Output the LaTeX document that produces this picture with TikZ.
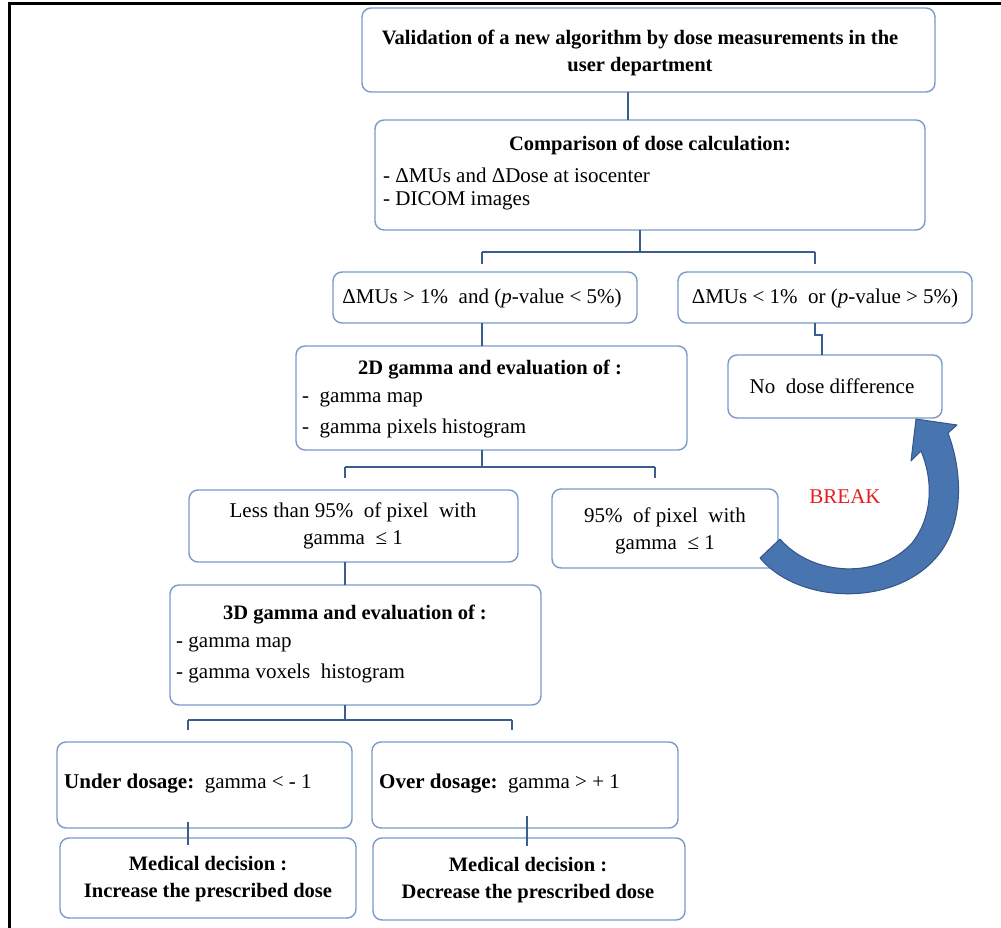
\documentclass[tikz,border=0pt]{standalone}
\usepackage{fontspec}
\setmainfont{Liberation Serif}
\begin{document}
\begin{tikzpicture}[x=1pt,y=-1pt,
  box/.style={draw=boxc, line width=1.4pt, rounded corners=9pt, fill=white, inner sep=0pt, outer sep=0pt},
  conn/.style={draw=connc, line width=2.6pt},
  txt/.style={inner sep=0pt, font=\fontsize{21}{27}\selectfont, text=black},
  ttl/.style={txt, font=\fontsize{20.5}{27}\selectfont\bfseries, align=center},
  lft/.style={txt, anchor=west}]
\definecolor{boxc}{RGB}{122,154,200}
\definecolor{connc}{RGB}{58,95,143}
\definecolor{arrf}{RGB}{72,116,176}
\definecolor{arre}{RGB}{52,86,135}
\useasboundingbox (0,0) rectangle (1001,928);
\newcommand\mybox[5]{\node[box, minimum width={(#4-#2)*1pt}, minimum height={(#5-#3)*1pt}] (#1) at ({(#2+#4)/2},{(#3+#5)/2}) {};}
% frame
\draw[line width=3pt, black] (8,4) -- (1001,4);
\draw[line width=3pt, black] (9,4) -- (9,928);
% boxes
\mybox{top}{362}{8}{935}{92}
\mybox{cmp}{375}{120}{925}{230}
\mybox{cl}{333}{272}{637}{323}
\mybox{cr}{678}{272}{972}{323}
\mybox{gtwo}{296}{346}{687}{450}
\mybox{nodose}{728}{355}{942}{418}
\mybox{less}{189}{490}{518}{562}
\mybox{ninety}{552}{489}{778}{568}
\mybox{gthree}{170}{585}{541}{705}
\mybox{under}{57}{742}{352}{828}
\mybox{over}{372}{742}{678}{828}
\mybox{medone}{60}{838}{356}{918}
\mybox{medtwo}{373}{838}{685}{920}
% texts
\node[ttl] (ttop) at (640,53) {Validation of a new algorithm by dose measurements in the\\user department};
\node[ttl] (tcmp) at (650,145) {Comparison of dose calculation:};
\node[lft] (tcmpa) at (383,175) {- ΔMUs and ΔDose at isocenter};
\node[lft] (tcmpb) at (383,201) {- DICOM images};
\node[txt] (tcl) at (482,298) {ΔMUs > 1\%\ \ and (\textit{p}-value < 5\%)};
\node[txt] (tcr) at (825,298) {ΔMUs < 1\%\ \ or (\textit{p}-value > 5\%)};
\node[ttl] (tgtwo) at (490,370) {2D gamma and evaluation of :};
\node[lft] (tgtwoa) at (302,399) {-\ \ gamma map};
\node[lft] (tgtwob) at (302,428) {-\ \ gamma pixels histogram};
\node[txt] (tnodose) at (832,386) {No\ \ dose difference};
\node[txt, align=center] (tless) at (353,526) {Less than 95\%\ \ of pixel\ \ with\\gamma\ \ ≤ 1};
\node[txt, align=center] (tninety) at (665,531) {95\%\ \ of pixel\ \ with\\gamma\ \ ≤ 1};
\node[ttl] (tgthree) at (355,615) {3D gamma and evaluation of :};
\node[lft] (tgthreea) at (176,644) {- gamma map};
\node[lft] (tgthreeb) at (176,673) {- gamma voxels\ \ histogram};
\node[lft] (tunder) at (64,784) {\textbf{Under dosage:}\ \ gamma < - 1};
\node[lft] (tover) at (379,784) {\textbf{Over dosage:}\ \ gamma > + 1};
\node[ttl] (tmedone) at (208,879) {Medical decision :\\Increase the prescribed dose};
\node[ttl] (tmedtwo) at (528,880) {Medical decision :\\Decrease the prescribed dose};
\node[txt, text={rgb,255:red,230;green,30;blue,30}] (brk) at (845,497) {BREAK};
% connectors
\coordinate (xa) at (628,0);
\coordinate (xb) at (640,0);
\coordinate (xc) at (482,0);
\coordinate (xd) at (815,0);
\coordinate (xe) at (822,0);
\coordinate (xf) at (345,0);
\coordinate (xg) at (655,0);
\coordinate (xh) at (188,0);
\coordinate (xi) at (512,0);
\coordinate (xj) at (527,0);
\draw[conn] (top.south -| xa) -- (cmp.north -| xa);
\draw[conn] (cmp.south -| xb) -- ++(0,22) coordinate (j1);
\draw[conn] (j1 -| xc) -- (j1 -| xd);
\draw[conn] (j1 -| xc) -- ++(0,12);
\draw[conn] (j1 -| xd) -- ++(0,12);
\draw[conn] (cl.south -| xc) -- (gtwo.north -| xc);
\draw[conn] (cr.south -| xd) -- ++(0,12) -| (nodose.north -| xe);
\draw[conn] (gtwo.south -| xc) -- ++(0,17) coordinate (j2);
\draw[conn] (j2 -| xf) -- (j2 -| xg);
\draw[conn] (j2 -| xf) -- ++(0,11);
\draw[conn] (j2 -| xg) -- ++(0,11);
\draw[conn] (less.south -| xf) -- (gthree.north -| xf);
\draw[conn] (gthree.south -| xf) -- ++(0,15) coordinate (j3);
\draw[conn] (j3 -| xh) -- (j3 -| xi);
\draw[conn] (j3 -| xh) -- ++(0,10);
\draw[conn] (j3 -| xi) -- ++(0,10);
\draw[conn] ([yshift=6pt]under.south -| xh) -- ([yshift=-7pt]medone.north -| xh);
\draw[conn] ([yshift=12pt]over.south -| xj) -- ([yshift=-8pt]medtwo.north -| xj);
% curved BREAK arrow
\draw[fill=arrf, draw=arre, line width=1pt, line join=round]
  (760,558) .. controls (800,606) and (902,608) .. (942,550)
  .. controls (964,518) and (962,470) .. (948,433)
  -- (957,425) -- (916,419) -- (911,461) -- (921,451)
  .. controls (934,482) and (932,518) .. (912,543)
  .. controls (878,580) and (812,576) .. (780,539) -- cycle;
\end{tikzpicture}
\end{document}
